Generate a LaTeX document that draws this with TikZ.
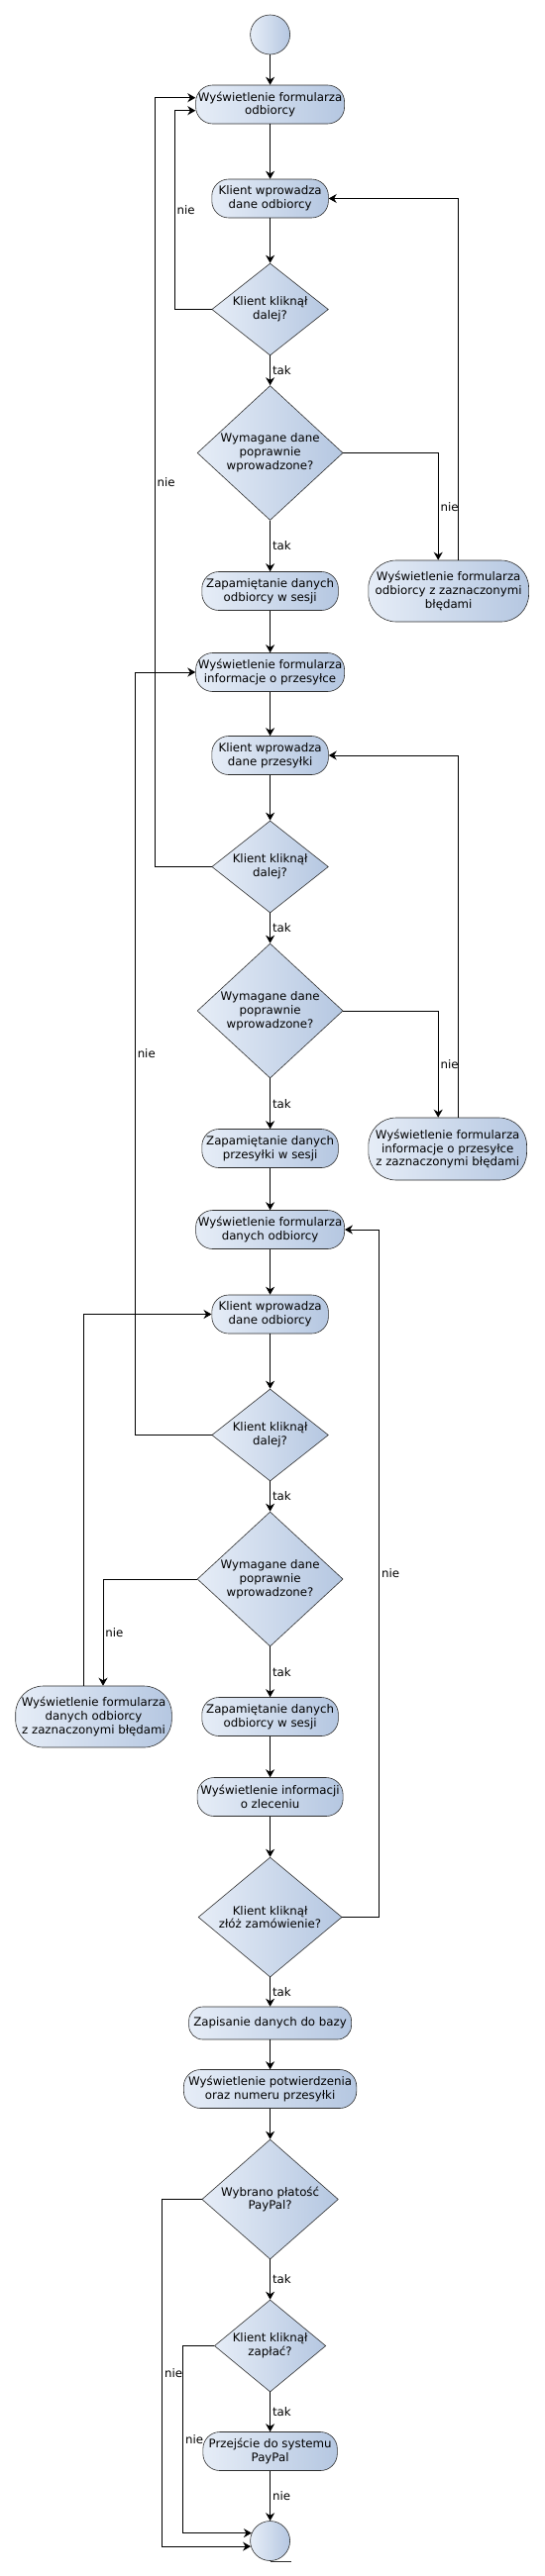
\documentclass[tikz,border=0pt]{standalone}
\usepackage{fontspec}
\setmainfont{DejaVu Sans}
\usetikzlibrary{arrows.meta,shapes.geometric}
\definecolor{flowlight}{HTML}{E6EDF7}
\definecolor{flowdark}{HTML}{B5C7E1}
\definecolor{flowedge}{HTML}{2E2E2E}

\begin{document}
\begin{tikzpicture}[
  x=1pt, y=-1pt,
  act/.style={draw=flowedge, line width=0.6pt, rounded corners=17pt,
    left color=flowlight, right color=flowdark, minimum height=39pt,
    inner sep=0pt, align=center, font=\fontsize{11.8}{13.8}\selectfont},
  dec/.style={draw=flowedge, line width=0.6pt, diamond,
    left color=flowlight, right color=flowdark, inner sep=0pt,
    align=center, font=\fontsize{11.8}{13.8}\selectfont},
  term/.style={draw=flowedge, line width=0.6pt, circle, minimum size=40pt,
    inner sep=0pt, left color=flowlight, right color=flowdark},
  lbl/.style={right, inner sep=2pt, font=\fontsize{11.8}{13.8}\selectfont},
  ->,>={Stealth[length=8pt,width=9pt]},line width=0.9pt
]
\useasboundingbox (0,0) rectangle (549,2602);

\node[term] (start) at (272.6,35) {};
\node[act, minimum width=150pt] (form1) at (272.6,105.5) {Wyświetlenie formularza\\odbiorcy};
\node[act, minimum width=117.6pt] (input1) at (272.6,200.5) {Klient wprowadza\\dane odbiorcy};
\node[dec, minimum width=117.6pt, minimum height=93pt, aspect=1.26] (next1) at (272.6,312.5) {Klient kliknął\\dalej?};
\node[dec, minimum width=147pt, minimum height=136pt, aspect=1.08] (valid1) at (272.6,457.5) {Wymagane dane\\poprawnie\\wprowadzone?};
\node[act, minimum width=161.8pt, minimum height=62pt, rounded corners=28pt] (err1) at (452.7,597) {Wyświetlenie formularza\\odbiorcy z zaznaczonymi\\błędami};
\node[act, minimum width=137.6pt] (save1) at (272.6,597) {Zapamiętanie danych\\odbiorcy w sesji};
\node[act, minimum width=150pt] (form2) at (272.6,679) {Wyświetlenie formularza\\informacje o przesyłce};
\node[act, minimum width=117.6pt] (input2) at (272.6,763) {Klient wprowadza\\dane przesyłki};
\node[dec, minimum width=117.6pt, minimum height=93pt, aspect=1.26] (next2) at (272.6,875.5) {Klient kliknął\\dalej?};
\node[dec, minimum width=147pt, minimum height=136pt, aspect=1.08] (valid2) at (272.6,1021) {Wymagane dane\\poprawnie\\wprowadzone?};
\node[act, minimum width=159.7pt, minimum height=63pt, rounded corners=28pt] (err2) at (451.7,1160.5) {Wyświetlenie formularza\\informacje o przesyłce\\z zaznaczonymi błędami};
\node[act, minimum width=137.6pt] (save2) at (272.6,1160) {Zapamiętanie danych\\przesyłki w sesji};
\node[act, minimum width=150pt] (form3) at (272.6,1242) {Wyświetlenie formularza\\danych odbiorcy};
\node[act, minimum width=117.6pt] (input3) at (272.6,1327.5) {Klient wprowadza\\dane odbiorcy};
\node[dec, minimum width=117.6pt, minimum height=93pt, aspect=1.26] (next3) at (272.6,1449.5) {Klient kliknął\\dalej?};
\node[dec, minimum width=147pt, minimum height=136pt, aspect=1.08] (valid3) at (272.6,1595) {Wymagane dane\\poprawnie\\wprowadzone?};
\node[act, minimum width=157.6pt, minimum height=62pt, rounded corners=28pt] (err3) at (94.5,1734) {Wyświetlenie formularza\\danych odbiorcy\\z zaznaczonymi błędami};
\node[act, minimum width=137.6pt] (save3) at (272.6,1734) {Zapamiętanie danych\\odbiorcy w sesji};
\node[act, minimum width=147pt] (summary) at (272.6,1815) {Wyświetlenie informacji\\o zleceniu};
\node[dec, minimum width=145pt, minimum height=121pt, aspect=1.2] (order) at (272.6,1936.5) {Klient kliknął\\złóż zamówienie?};
\node[act, minimum width=163.9pt, minimum height=33pt, rounded corners=14pt] (store) at (272.6,2043.5) {Zapisanie danych do bazy};
\node[act, minimum width=174.4pt] (confirm) at (272.6,2110) {Wyświetlenie potwierdzenia\\oraz numeru przesyłki};
\node[dec, minimum width=137.6pt, minimum height=121pt, aspect=1.14] (paypal) at (272.6,2221.5) {Wybrano płatość\\PayPal?};
\node[dec, minimum width=112.4pt, minimum height=93pt, aspect=1.21] (pay) at (272.6,2369.5) {Klient kliknął\\zapłać?};
\node[act, minimum width=135.5pt] (redirect) at (272.6,2476) {Przejście do systemu\\PayPal};
\node[term] (end) at (272.6,2566.5) {};
\draw[-, line width=0.6pt, flowedge] (end.south) -- ++(21,0);

\draw (start) -- (form1);
\draw (form1) -- (input1);
\draw (input1) -- (next1);
\draw (next1) -- node[lbl] (yes1) {tak} (valid1);
\draw (valid1) -- node[lbl] (yes2) {tak} (save1);
\draw (next1.west) -- ++(-37.3,0) |- node[lbl,pos=.25] (no1) {nie} ([yshift=-6.2]form1.west);
\draw (valid1.east) -| node[lbl,pos=.75] (no2) {nie} ([xshift=-10.5]err1.north);
\draw ([xshift=9.5]err1.north) |- (input1.east);
\draw (save1) -- (form2);
\draw (form2) -- (input2);
\draw (input2) -- (next2);
\draw (next2) -- node[lbl] (yes3) {tak} (valid2);
\draw (valid2) -- node[lbl] (yes4) {tak} (save2);
\draw (next2.west) -- ++(-57.3,0) |- node[lbl,pos=.25] (no3) {nie} ([yshift=6.8]form1.west);
\draw (valid2.east) -| node[lbl,pos=.75] (no4) {nie} ([xshift=-9.5]err2.north);
\draw ([xshift=10.5]err2.north) |- (input2.east);
\draw (save2) -- (form3);
\draw (form3) -- (input3);
\draw (input3) -- (next3);
\draw (next3) -- node[lbl] (yes5) {tak} (valid3);
\draw (valid3) -- node[lbl] (yes6) {tak} (save3);
\draw (next3.west) -- ++(-77.2,0) |- node[lbl,pos=.25] (no5) {nie} (form2.west);
\draw (valid3.west) -| node[lbl,pos=.75] (no6) {nie} ([xshift=9.5]err3.north);
\draw ([xshift=-10.5]err3.north) |- (input3.west);
\draw (save3) -- (summary);
\draw (summary) -- (order);
\draw (order) -- node[lbl] (yes7) {tak} (store);
\draw (order.east) -- ++(37.2,0) |- node[lbl,pos=.25] (no7) {nie} (form3.east);
\draw (store) -- (confirm);
\draw (confirm) -- (paypal);
\draw (paypal) -- node[lbl] (yes8) {tak} (pay);
\draw (pay) -- node[lbl] (yes9) {tak} (redirect);
\draw (paypal.west) -- ++(-39.9,0) |- node[lbl,pos=.25] (no8) {nie} (end.196);
\draw (pay.west) -- ++(-31.5,0) |- node[lbl,pos=.25] (no9) {nie} (end.157);
\draw (redirect) -- node[lbl] (no10) {nie} (end);
\end{tikzpicture}
\end{document}
